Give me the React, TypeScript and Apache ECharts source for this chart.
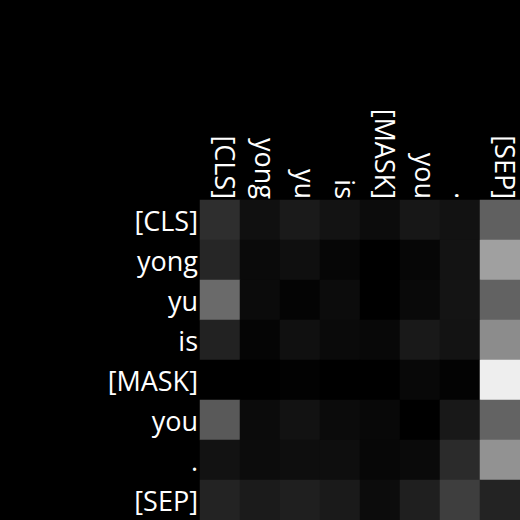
import React, { useEffect, useRef } from "react";
import * as echarts from "echarts";

const tokens = ["[CLS]", "yong", "yu", "is", "[MASK]", "you", ".", "[SEP]"];

// attention weights (rows = query token, cols = key token), 0..1
const rowCLS = [0.18, 0.063, 0.102, 0.075, 0.047, 0.09, 0.071, 0.376];
const rowYong = [0.149, 0.039, 0.059, 0.024, 0.0, 0.024, 0.075, 0.627];
const rowYu = [0.416, 0.043, 0.016, 0.047, 0.0, 0.035, 0.078, 0.384];
const rowIs = [0.133, 0.02, 0.063, 0.039, 0.031, 0.098, 0.075, 0.549];
const rowMask = [0.0, 0.0, 0.008, 0.0, 0.0, 0.031, 0.012, 0.933];
const rowYou = [0.349, 0.043, 0.071, 0.043, 0.031, 0.0, 0.094, 0.388];
const rowDot = [0.071, 0.047, 0.055, 0.055, 0.027, 0.039, 0.169, 0.573];
const rowSep = [0.137, 0.106, 0.122, 0.102, 0.047, 0.122, 0.243, 0.137];

const matrix = [rowCLS, rowYong, rowYu, rowIs, rowMask, rowYou, rowDot, rowSep];

export default function App() {
  const ref = useRef<HTMLDivElement>(null);
  useEffect(() => {
    if (!ref.current) return;
    const chart = echarts.init(ref.current, null, { renderer: "svg" });
    const data: [number, number, number][] = [];
    matrix.forEach((row, r) => row.forEach((v, c) => data.push([c, r, v])));
    const labelStyle = {
      color: "#ffffff",
      fontFamily: "Open Sans",
      fontSize: 27,
    };
    chart.setOption({
      animation: false,
      backgroundColor: "#000000",
      grid: { left: 200, top: 200, width: 320, height: 320 },
      xAxis: {
        type: "category",
        data: tokens,
        position: "top",
        axisLine: { show: false },
        axisTick: { show: false },
        splitLine: { show: false },
        axisLabel: {
          ...labelStyle,
          rotate: 90,
          margin: 1,
          interval: 0,
          verticalAlign: "bottom",
          lineHeight: 10,
        },
      },
      yAxis: {
        type: "category",
        data: tokens,
        inverse: true,
        axisLine: { show: false },
        axisTick: { show: false },
        splitLine: { show: false },
        axisLabel: { ...labelStyle, margin: 2, interval: 0 },
      },
      visualMap: {
        show: false,
        min: 0,
        max: 1,
        inRange: { color: ["#000000", "#ffffff"] },
      },
      series: [
        {
          type: "heatmap",
          data,
          itemStyle: { borderWidth: 0 },
          emphasis: { disabled: true },
        },
      ],
    });
    return () => chart.dispose();
  }, []);
  return (
    <div
      ref={ref}
      style={{ position: "fixed", left: 0, top: 0, width: 520, height: 520, background: "#000" }}
    />
  );
}
